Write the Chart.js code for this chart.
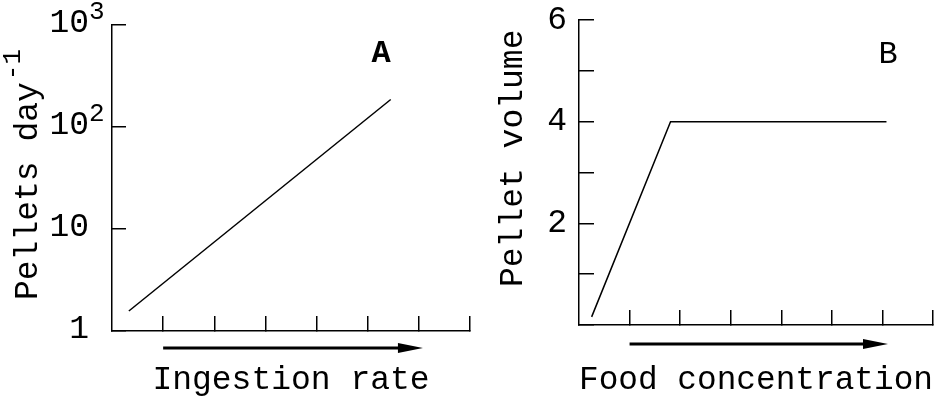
<!DOCTYPE html>
<html>
<head>
<meta charset="utf-8">
<script src="https://cdn.jsdelivr.net/npm/chart.js@4.4.1/dist/chart.umd.min.js"></script>
<style>
  html, body { margin: 0; padding: 0; background: #fff; }
  #wrap { position: relative; width: 949px; height: 398px; }
  canvas { position: absolute; top: 0; }
  #chartA { left: 0; }
  #chartB { left: 480px; }
</style>
</head>
<body>
<div id="wrap">
  <canvas id="chartA" width="480" height="398"></canvas>
  <canvas id="chartB" width="469" height="398"></canvas>
</div>
<script>
// Panel A: pellets per day against ingestion rate (log scale)
const ingestionRate = [0.33, 5.45];
const pelletsPerDay = [1.57, 186];
const pelletTicks = [1, 10, 100, 1000];
const pelletTickLabels = ["1", "10", "10", "10"];
const pelletTickPowers = ["", "", "2", "3"];

// Panel B: pellet volume against food concentration
const foodConcentration = [0.25, 1.81, 6.08];
const pelletVolume = [0.16, 4, 4];
const volumeTicks = [0, 1, 2, 3, 4, 5, 6];
const volumeTickLabels = ["", "", "2", "", "4", "", "6"];

// unlabelled ticks along both x axes
const xTicks = [1, 2, 3, 4, 5, 6, 7];

const FONT = "'Liberation Mono', 'Courier New', monospace";

const decorations = {
  id: "decorations",
  afterDraw(chart, args, opts) {
    const { ctx, chartArea, scales } = chart;
    const x = scales.x, y = scales.y;
    ctx.save();
    ctx.fillStyle = "#000";
    ctx.strokeStyle = "#000";

    // arrow under the x axis
    const ay = chartArea.bottom + opts.arrowGap;
    const x0 = x.getPixelForValue(opts.arrowFrom);
    const x1 = x.getPixelForValue(opts.arrowTo);
    ctx.lineWidth = 3;
    ctx.beginPath();
    ctx.moveTo(x0, ay);
    ctx.lineTo(x1 - 20, ay);
    ctx.stroke();
    ctx.beginPath();
    ctx.moveTo(x1, ay);
    ctx.lineTo(x1 - 25, ay - 5);
    ctx.lineTo(x1 - 25, ay + 5);
    ctx.closePath();
    ctx.fill();

    // panel letter
    ctx.font = (opts.letterBold ? "bold " : "") + "32px " + FONT;
    ctx.textAlign = "center";
    ctx.textBaseline = "alphabetic";
    ctx.fillText(opts.letter, x.getPixelForValue(opts.letterAt[0]), y.getPixelForValue(opts.letterAt[1]));

    // y tick labels with powers of ten
    if (opts.powerLabels) {
      y.ticks.forEach((t, i) => {
        const py = y.getPixelForValue(t.value) - 2;
        ctx.font = "33px " + FONT;
        ctx.textAlign = "right";
        ctx.textBaseline = "middle";
        ctx.fillText(pelletTickLabels[i], opts.labelRight, py);
        if (pelletTickPowers[i]) {
          ctx.font = "26px " + FONT;
          ctx.textAlign = "left";
          ctx.fillText(pelletTickPowers[i], opts.labelRight, py - 11);
        }
      });
    }

    // rotated y axis title
    ctx.translate(opts.titleX, opts.titleY);
    ctx.rotate(-Math.PI / 2);
    ctx.textAlign = "left";
    ctx.textBaseline = "alphabetic";
    ctx.font = "33px " + FONT;
    ctx.fillText(opts.title, 0, 0);
    if (opts.titleSup) {
      const w = ctx.measureText(opts.title).width;
      ctx.font = "26px " + FONT;
      ctx.fillText(opts.titleSup, w + 2, -17);
    }
    ctx.restore();
  },
};

function fixSize(prop, size) {
  return (s) => {
    s[prop] = size;
    s.paddingTop = 0;
    s.paddingBottom = 0;
    s.paddingLeft = 0;
    s.paddingRight = 0;
  };
}

function axisX(height, title) {
  return {
    type: "linear",
    min: 0,
    max: 7,
    afterBuildTicks: (s) => { s.ticks = xTicks.map((v) => ({ value: v })); },
    afterFit: fixSize("height", height),
    ticks: { display: false },
    grid: { drawOnChartArea: false, tickLength: -15, color: "#000", lineWidth: 1.5 },
    border: { display: true, color: "#000", width: 1.5 },
    title: {
      display: true,
      text: title,
      color: "#000",
      font: { family: FONT, size: 33, lineHeight: 1.1 },
      padding: 0,
    },
  };
}

const common = {
  responsive: false,
  animation: false,
  devicePixelRatio: 1,
  plugins: { legend: { display: false }, tooltip: { enabled: false } },
};

new Chart(document.getElementById("chartA"), {
  type: "line",
  data: {
    datasets: [{
      data: ingestionRate.map((v, i) => ({ x: v, y: pelletsPerDay[i] })),
      borderColor: "#000",
      borderWidth: 1.5,
      pointRadius: 0,
      tension: 0,
    }],
  },
  plugins: [decorations],
  options: {
    ...common,
    layout: { padding: { left: 0, right: 10, top: 25, bottom: 0 } },
    plugins: {
      ...common.plugins,
      decorations: {
        arrowGap: 17, arrowFrom: 1, arrowTo: 6.08,
        letter: "A", letterBold: true, letterAt: [5.26, 434],
        powerLabels: true, labelRight: 89,
        title: "Pellets day", titleSup: "-1", titleX: 37, titleY: 300,
      },
    },
    scales: {
      x: axisX(67, "Ingestion rate"),
      y: {
        type: "logarithmic",
        min: 1,
        max: 1000,
        afterBuildTicks: (s) => { s.ticks = pelletTicks.map((v) => ({ value: v })); },
        afterFit: fixSize("width", 112),
        ticks: { display: false },
        grid: { drawOnChartArea: false, tickLength: -14, color: "#000", lineWidth: 1.5 },
        border: { display: true, color: "#000", width: 1.5 },
      },
    },
  },
});

new Chart(document.getElementById("chartB"), {
  type: "line",
  data: {
    datasets: [{
      data: foodConcentration.map((v, i) => ({ x: v, y: pelletVolume[i] })),
      borderColor: "#000",
      borderWidth: 1.5,
      pointRadius: 0,
      tension: 0,
    }],
  },
  plugins: [decorations],
  options: {
    ...common,
    layout: { padding: { left: 0, right: 16, top: 20, bottom: 0 } },
    plugins: {
      ...common.plugins,
      decorations: {
        arrowGap: 19, arrowFrom: 1, arrowTo: 6.11,
        letter: "B", letterBold: false, letterAt: [6.11, 5.15],
        title: "Pellet volume", titleX: 42, titleY: 287,
      },
    },
    scales: {
      x: axisX(73, "Food concentration"),
      y: {
        type: "linear",
        min: 0,
        max: 6,
        afterBuildTicks: (s) => { s.ticks = volumeTicks.map((v) => ({ value: v })); },
        afterFit: fixSize("width", 99),
        ticks: {
          color: "#000",
          font: { family: FONT, size: 33 },
          padding: 27,
          autoSkip: false,
          callback: (v, i) => volumeTickLabels[i],
        },
        grid: { drawOnChartArea: false, tickLength: -15, color: "#000", lineWidth: 1.5 },
        border: { display: true, color: "#000", width: 1.5 },
      },
    },
  },
});
</script>
</body>
</html>
